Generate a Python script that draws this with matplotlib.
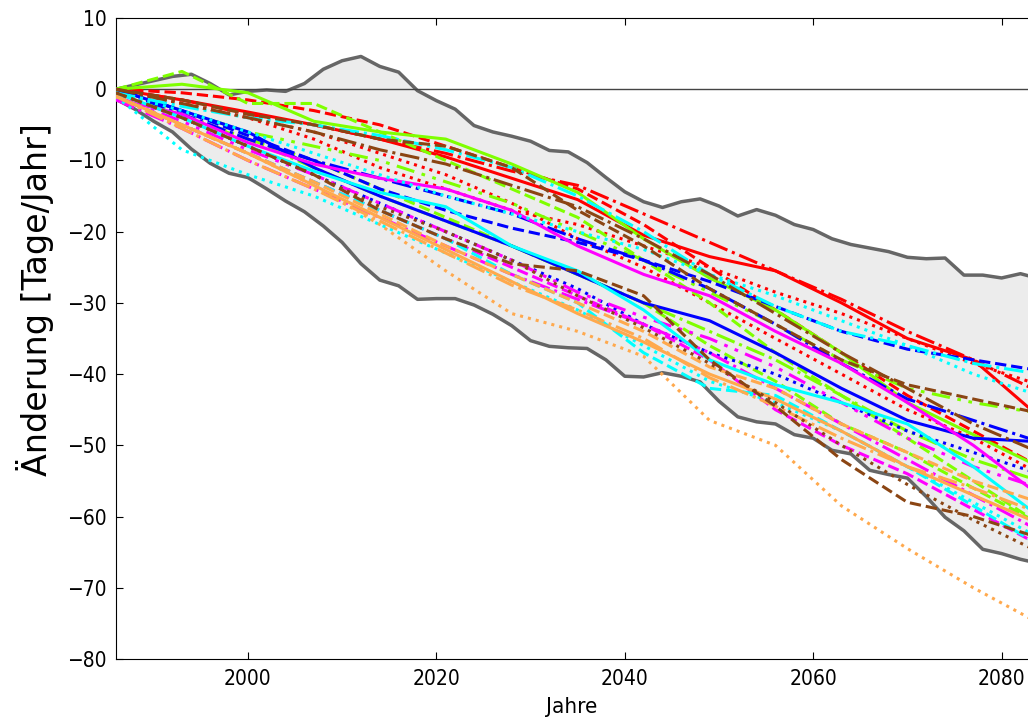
import numpy as np
import matplotlib
matplotlib.use("Agg")
import matplotlib.pyplot as plt
from matplotlib import font_manager

jahre_huelle = np.arange(1986, 2085, 2)
huelle_oben = [0, 0.6, 1.2, 1.8, 2.1, 0.8, -0.8, -0.3, -0.1, -0.3,
               0.8, 2.8, 4.0, 4.6, 3.2, 2.4, -0.2, -1.6, -2.8, -5.1,
               -6.0, -6.6, -7.3, -8.6, -8.8, -10.3, -12.4, -14.4, -15.8, -16.6,
               -15.8, -15.4, -16.4, -17.8, -16.9, -17.7, -19.0, -19.7, -21.0, -21.8,
               -22.3, -22.8, -23.6, -23.8, -23.7, -26.1, -26.1, -26.5, -25.9, -26.6]
huelle_unten = [-1.4, -2.8, -4.5, -6.0, -8.4, -10.4, -11.8, -12.4, -14.0, -15.7,
                -17.2, -19.2, -21.5, -24.5, -26.8, -27.6, -29.5, -29.4, -29.4, -30.3,
                -31.6, -33.2, -35.3, -36.1, -36.3, -36.4, -38.0, -40.3, -40.4, -39.8,
                -40.3, -41.1, -43.8, -46.0, -46.7, -47.0, -48.5, -49.0, -50.7, -51.2,
                -53.5, -54.1, -54.6, -57.2, -60.1, -62.0, -64.6, -65.2, -66.0, -66.6]

jahre = [1986, 1993, 2000, 2007, 2014, 2021, 2028, 2035, 2042, 2049, 2056, 2063, 2070, 2077, 2084]

rot_durchgez = [0, -1.5, -3.2, -5, -7, -9.5, -12.5, -15.5, -20.5, -23.5, -25.5, -30, -35, -38, -46]
rot_gestr = [0, -0.5, -1.5, -3, -5, -8, -11, -14, -19, -25, -31, -37, -43, -48, -53]
rot_strichpunkt = [0, -1.5, -3.5, -5, -7, -9, -11.5, -13.5, -17.5, -21.5, -25.5, -29.5, -34, -38, -42.5]
rot_punkt = [0, -2, -4, -7, -11, -14, -17, -19, -22, -25, -28.5, -31.5, -35, -38.5, -41.5]
rot_punkt2 = [0, -2, -4, -6, -9, -12, -16, -21, -25, -30, -35, -40, -45, -49, -54]

gruen_durchgez = [0, 0.7, -0.5, -4.5, -6, -7, -10.5, -14.5, -21, -26.5, -31, -37, -44, -48.5, -53]
gruen_gestr = [0, 2.5, -2, -2, -6, -10, -14, -18, -24, -30, -37, -43, -49, -55, -61]
gruen_strichpp = [0, -3, -6, -8, -10, -13, -16, -20, -24, -28.5, -33, -38, -42, -44, -45.5]
gruen_gestr2 = [-0.5, -4, -7, -10, -14, -18, -22, -26, -30, -36, -41, -47, -51, -56, -61]
gruen_strichpunkt = [-0.5, -3.5, -7, -11, -15, -18.5, -22, -26, -30, -34, -38, -43, -48, -52, -55]

blau_durchgez = [0, -3, -6, -11, -15, -18.5, -22, -26, -30, -32.5, -37, -42, -46.5, -49, -49.5]
blau_gestr = [0, -3, -6.5, -10, -14, -17, -19.5, -21.5, -24, -27, -30.5, -34, -36.5, -38, -39.5]
blau_strichpunkt = [0, -3.5, -7, -10, -12.5, -15, -17.5, -21, -24, -28, -33, -38.5, -43.5, -46.5, -49.5]
blau_punkt = [-0.5, -4, -8, -12, -16, -20, -24, -28, -33, -37, -40, -44, -48, -51, -54]

magenta_durchgez = [-1.4, -3.5, -7.5, -10.5, -12.5, -14, -17, -22, -26, -29, -34, -38.5, -44, -50, -57]
magenta_gestr = [-1, -5, -9, -13, -17, -21, -25, -29, -33, -38, -45, -50, -54, -59, -64]
magenta_strichpunkt = [-1.5, -5.5, -10, -14, -18, -22, -26, -29.5, -33, -37, -42, -47, -52, -57, -62]
magenta_strichpp = [-1, -4.5, -8.5, -12, -16, -20, -24, -28.5, -32, -35, -39, -44, -49, -53, -56]

cyan_durchgez = [-0.5, -4, -8, -11.5, -14.5, -16.5, -22, -25.5, -31, -38, -41.5, -44, -47, -53, -60]
cyan_gestr = [-1, -5, -9, -13, -17, -21, -26, -30, -37, -42, -43, -48, -53, -58.5, -64]
cyan_strichpunkt = [-0.5, -2.4, -4, -5, -6.5, -8.5, -11, -15, -20, -26, -30.5, -34, -36, -38.5, -40]
cyan_punkt = [-0.5, -3, -6, -9, -12, -15, -17.5, -20, -22.5, -26, -29, -32.5, -36, -40, -43]
cyan_punkt2 = [-1, -8.5, -12, -15, -19, -23, -27, -31, -36, -41, -44, -48, -53, -58, -63]

orange_durchgez = [-1, -5, -9, -13.5, -18, -22.5, -27, -31.5, -35.5, -40, -43.5, -48, -53, -57, -61]
orange_gestr = [-1, -5, -9, -13, -17.5, -22, -26, -30, -34, -39, -42, -47, -51, -55, -58]
orange_strichpunkt = [-1, -5.5, -10, -14, -18.5, -23, -27.5, -31, -35, -40.5, -44.5, -49, -53, -56, -59.5]
orange_punkt = [-1, -5, -9, -13.5, -19, -25.5, -31.5, -34, -37.5, -46.5, -50, -58.5, -64.5, -70, -75]

braun_gestr = [-0.5, -4, -8, -12, -17, -21, -24.5, -25.5, -29, -38, -44.5, -52, -58, -60, -63]
braun_gestr2 = [0, -1.5, -3.5, -5, -7, -8, -11, -17, -22, -28, -33, -38, -41.5, -43.5, -45.5]
braun_punkt = [-0.5, -4, -8, -12, -16.5, -20, -24, -29, -33.5, -38.5, -44, -50, -55.5, -60.5, -65]
braun_strichpunkt = [0, -2, -4, -6, -8.5, -10.5, -13.5, -16.5, -21, -26, -31.5, -37, -42, -47, -51]

rot = "#ff0000"
gruen = "#7fff00"
blau = "#0000ff"
magenta = "#ff00ff"
cyan = "#00ffff"
orange = "#ffa94d"
braun = "#8b4513"

dpp = (0, (6, 2.5, 1.2, 2.5, 1.2, 2.5))  # Strich-Punkt-Punkt

laeufe = [
    (rot_durchgez, rot, "-"), (rot_gestr, rot, "--"), (rot_strichpunkt, rot, "-."),
    (rot_punkt, rot, ":"), (rot_punkt2, rot, ":"),
    (gruen_durchgez, gruen, "-"), (gruen_gestr, gruen, "--"), (gruen_strichpp, gruen, dpp),
    (gruen_gestr2, gruen, "--"), (gruen_strichpunkt, gruen, "-."),
    (blau_durchgez, blau, "-"), (blau_gestr, blau, "--"), (blau_strichpunkt, blau, "-."),
    (blau_punkt, blau, ":"),
    (magenta_durchgez, magenta, "-"), (magenta_gestr, magenta, "--"),
    (magenta_strichpunkt, magenta, "-."), (magenta_strichpp, magenta, dpp),
    (cyan_durchgez, cyan, "-"), (cyan_gestr, cyan, "--"), (cyan_strichpunkt, cyan, "-."),
    (cyan_punkt, cyan, ":"), (cyan_punkt2, cyan, ":"),
    (orange_durchgez, orange, "-"), (orange_gestr, orange, "--"),
    (orange_strichpunkt, orange, "-."), (orange_punkt, orange, ":"),
    (braun_gestr, braun, "--"), (braun_gestr2, braun, "--"), (braun_punkt, braun, ":"),
    (braun_strichpunkt, braun, "-."),
]

schmal = font_manager.FontProperties(family="DejaVu Sans", stretch="condensed", size=15)
schmal_label = font_manager.FontProperties(family="DejaVu Sans", stretch="condensed", size=16)

fig = plt.figure(figsize=(10.28, 7.18), dpi=100)
ax = fig.add_axes([116 / 1028, 59 / 718, (1028 - 116) / 1028, 641 / 718])

ax.fill_between(jahre_huelle, huelle_unten, huelle_oben, color="#ececec", zorder=1)
ax.plot(jahre_huelle, huelle_oben, color="#666666", lw=2.5, zorder=2)
ax.plot(jahre_huelle, huelle_unten, color="#666666", lw=2.5, zorder=2)
ax.axhline(0, color="#444444", lw=1, zorder=2)

for werte, farbe, stil in laeufe:
    ax.plot(jahre, werte, color=farbe, linestyle=stil, lw=2.2, zorder=3)

ax.set_xlim(1986, 2082.8)
ax.set_ylim(-80, 10)
ax.set_yticks(np.arange(-80, 11, 10))
ax.set_xticks([2000, 2020, 2040, 2060, 2080])
ax.tick_params(direction="in", top=True, right=False, length=5, pad=7)
for lab in ax.get_xticklabels() + ax.get_yticklabels():
    lab.set_fontproperties(schmal)
ax.spines["right"].set_visible(False)
ax.set_xlabel("Jahre", fontproperties=schmal_label, labelpad=6)
ax.set_ylabel("Änderung [Tage/Jahr]", fontsize=24)
ax.yaxis.set_label_coords(-0.068, 0.56)

fig.savefig("out.png", dpi=100)
